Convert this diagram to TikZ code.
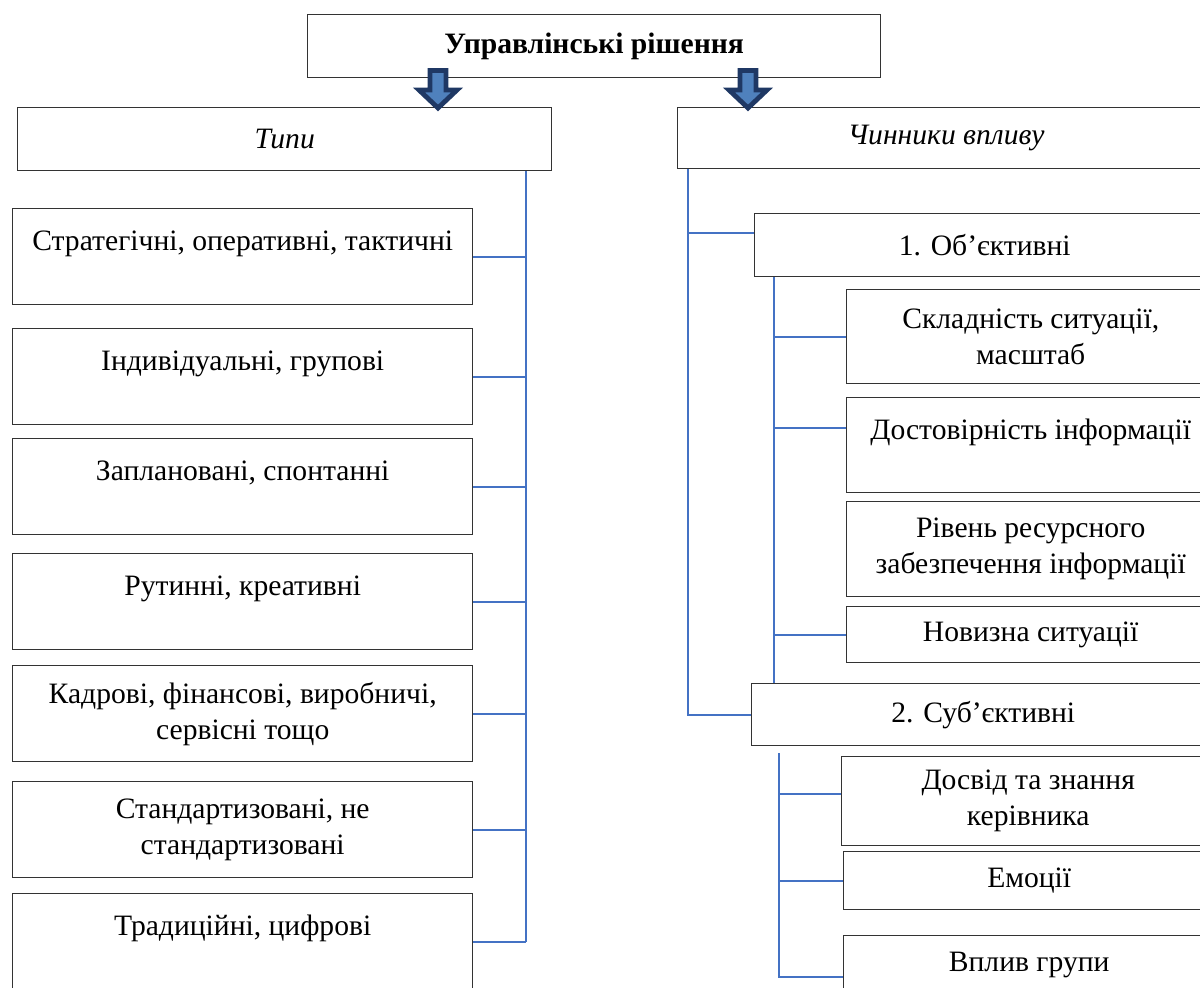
\documentclass[tikz,border=0pt]{standalone}
\usepackage{fontspec}
\setmainfont{Liberation Serif}
\usepackage{xcolor}
\usepackage{tikz}
\usetikzlibrary{positioning,calc}
\definecolor{cblue}{RGB}{68,114,196}
\definecolor{cfill}{RGB}{79,129,189}
\definecolor{cnavy}{RGB}{31,56,100}
\newcommand{\toprow}[1]{#1\\[-7pt]\strut}

\begin{document}
\begin{tikzpicture}[x=0.5pt,y=-0.5pt,
  box/.style={draw=black!80,line width=0.7pt,fill=white,align=center,anchor=north west,inner sep=2pt,
    font=\fontsize{14.8}{18}\selectfont},
  link/.style={draw=cblue,line width=1pt},
  blockarr/.style={fill=cfill,draw=cnavy,line width=2.4pt,line join=miter},
]
\clip (0,0) rectangle (1200,988);
% top level
\node[box,minimum width=286.5pt,minimum height=31.5pt] (head) at (307,14) {\textbf{Управлінські рішення}};
\node[box,minimum width=267pt,minimum height=31.5pt] (types) at (17,107) {\textit{Типи}};
\node[box,minimum width=268.5pt,minimum height=30.5pt] (factors) at (677,107) {\textit{Чинники впливу}};
% left column
\node[box,minimum width=230pt,minimum height=48pt] (t1) at (12,208) {\toprow{Стратегічні, оперативні, тактичні}};
\node[box,minimum width=230pt,minimum height=48pt] (t2) at (12,328) {\toprow{Індивідуальні, групові}};
\node[box,minimum width=230pt,minimum height=48pt] (t3) at (12,438) {\toprow{Заплановані, спонтанні}};
\node[box,minimum width=230pt,minimum height=48pt] (t4) at (12,553) {\toprow{Рутинні, креативні}};
\node[box,minimum width=230pt,minimum height=48pt] (t5) at (12,665) {Кадрові, фінансові, виробничі,\\сервісні тощо};
\node[box,minimum width=230pt,minimum height=48pt] (t6) at (12,781) {Стандартизовані, не\\стандартизовані};
\node[box,minimum width=230pt,minimum height=48pt] (t7) at (12,893) {\toprow{Традиційні, цифрові}};
% right column
\node[box,minimum width=230pt,minimum height=31.5pt] (obj) at (754,213) {1. Об’єктивні};
\node[box,minimum width=184pt,minimum height=47pt] (c1) at (846,289) {Складність ситуації,\\масштаб};
\node[box,minimum width=184pt,minimum height=47.5pt] (c2) at (846,397) {\toprow{Достовірність інформації}};
\node[box,minimum width=184pt,minimum height=47.5pt] (c3) at (846,501) {Рівень ресурсного\\забезпечення інформації};
\node[box,minimum width=184pt,minimum height=28pt] (c4) at (846,606) {Новизна ситуації};
\node[box,minimum width=231.5pt,minimum height=31pt] (subj) at (751,683) {2. Суб’єктивні};
\node[box,minimum width=186.5pt,minimum height=44.5pt] (s1) at (841,756) {Досвід та знання\\керівника};
\node[box,minimum width=185.5pt,minimum height=29pt] (s2) at (843,851) {Емоції};
\node[box,minimum width=185.5pt,minimum height=29pt] (s3) at (843,935) {Вплив групи};
% trunks
\coordinate (lx) at (526,0);
\coordinate (rx) at (688,0);
\coordinate (ox) at (774,0);
\coordinate (sx) at (779,0);
\draw[link] (types.south -| lx) -- (lx |- t7.east);
\foreach \n in {t1,t2,t3,t4,t5,t6,t7}
  \draw[link] (\n.east) -- (\n.east -| lx);
\draw[link] (factors.south -| rx) |- (subj.west);
\draw[link] ($(obj.west -| rx)+(0,-12)$) -- ($(obj.west)+(0,-12)$);
\draw[link] (obj.south -| ox) -- (subj.north -| ox);
\draw[link] (c1.west) -- (c1.west -| ox);
\draw[link] ($(c2.west)+(0,-17)$) -- ($(c2.west -| ox)+(0,-17)$);
\draw[link] (c4.west) -- (c4.west -| ox);
\draw[link] ($(subj.south -| sx)+(0,7)$) -- ($(s3.west -| sx)+(0,12)$) -- ($(s3.west)+(0,12)$);
\draw[link] ($(s1.west)+(0,-7)$) -- ($(s1.west -| sx)+(0,-7)$);
\draw[link] (s2.west) -- (s2.west -| sx);
% block arrows
\foreach \ax in {438,748}
  \draw[blockarr] (\ax-8,70.5) -- (\ax+8,70.5) -- (\ax+8,90) -- (\ax+19,90) -- (\ax,108)
    -- (\ax-19,90) -- (\ax-8,90) -- cycle;
\end{tikzpicture}
\end{document}
